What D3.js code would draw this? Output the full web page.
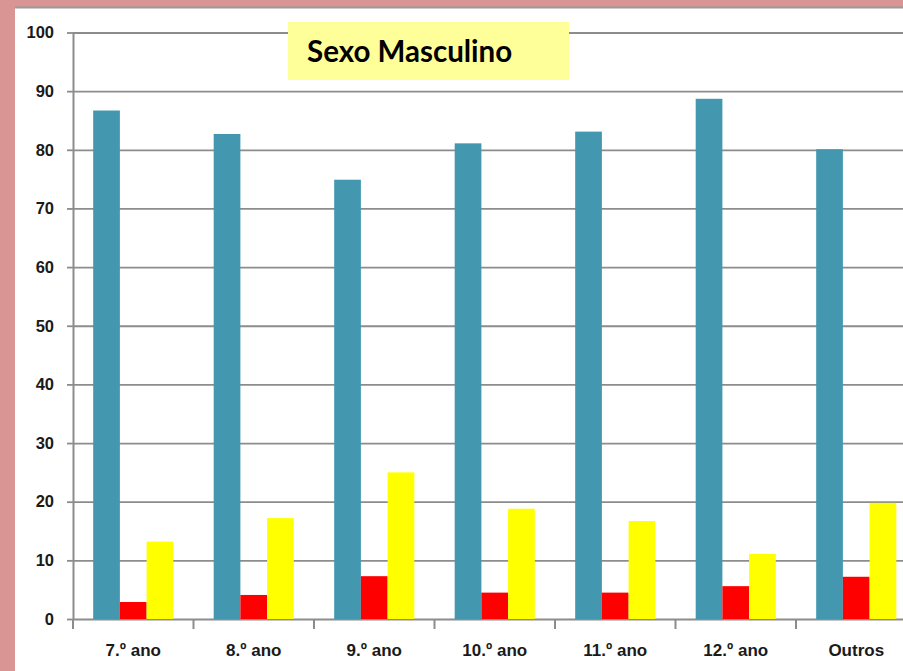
<!DOCTYPE html>
<html>
<head>
<meta charset="utf-8">
<script src="https://cdn.jsdelivr.net/npm/d3@7"></script>
<style>
  html, body { margin: 0; padding: 0; background: #fff; }
  svg { display: block; }
</style>
</head>
<body>
<svg width="903" height="671"></svg>
<script>
  // Data
  const categories = ["7.º ano", "8.º ano", "9.º ano", "10.º ano", "11.º ano", "12.º ano", "Outros"];
  const seriesNames = ["azul", "vermelho", "amarelo"];
  const azul = [86.7, 82.7, 74.9, 81.1, 83.1, 88.7, 80.1];
  const vermelho = [2.9, 4.1, 7.3, 4.5, 4.5, 5.6, 7.2];
  const amarelo = [13.2, 17.2, 25.0, 18.8, 16.7, 11.1, 19.8];
  const yTicks = [0, 10, 20, 30, 40, 50, 60, 70, 80, 90, 100];
  const title = "Sexo Masculino";

  const colors = { azul: "#4398b0", vermelho: "#ff0000", amarelo: "#ffff00" };
  const values = { azul, vermelho, amarelo };

  const W = 903, H = 671;
  const svg = d3.select("svg");

  // page frame: pink border on left/top
  svg.append("rect").attr("width", W).attr("height", H).attr("fill", "#d99594");
  svg.append("rect").attr("x", 15).attr("y", 7).attr("width", W - 15).attr("height", H - 7).attr("fill", "#fff");
  svg.append("line").attr("x1", 15).attr("x2", W).attr("y1", 7.5).attr("y2", 7.5)
    .attr("stroke", "#9a9a9a").attr("stroke-width", 2);

  // scales
  const step = 120.5;
  const x0 = 73;
  const x = d3.scaleBand()
    .domain(categories)
    .range([x0, x0 + step * categories.length])
    .paddingInner(0.335)
    .paddingOuter(0.1675);
  const xs = d3.scaleBand().domain(seriesNames).range([0, x.bandwidth()]);
  const y = d3.scaleLinear().domain([0, 100]).range([619, 32.5]);

  const font = "'Liberation Sans', Arial, sans-serif";

  // gridlines
  svg.append("g")
    .attr("transform", `translate(${x0},0)`)
    .call(d3.axisLeft(y).tickValues(yTicks).tickSize(-(W - x0)).tickFormat(""))
    .call(g => g.select(".domain").remove())
    .call(g => g.selectAll("line").attr("stroke", "#8c8c8c").attr("stroke-width", 1.8));

  // title box
  svg.append("rect").attr("x", 288).attr("y", 22).attr("width", 281).attr("height", 58).attr("fill", "#ffff99");
  svg.append("text").attr("x", 307).attr("y", 62)
    .attr("font-family", "Lato, 'Open Sans', sans-serif").attr("font-weight", "bold")
    .attr("font-size", 29.5).attr("fill", "#000").text(title);

  // bars
  const groups = svg.append("g").selectAll("g")
    .data(categories)
    .join("g")
    .attr("transform", d => `translate(${x(d)},0)`);

  groups.selectAll("rect")
    .data((d, i) => seriesNames.map(s => ({ s, v: values[s][i] })))
    .join("rect")
    .attr("x", d => xs(d.s))
    .attr("width", xs.bandwidth())
    .attr("y", d => y(d.v))
    .attr("height", d => y(0) - y(d.v))
    .attr("fill", d => colors[d.s]);

  // y axis
  svg.append("g")
    .attr("transform", `translate(${x0},0)`)
    .call(d3.axisLeft(y).tickValues(yTicks).tickSize(6).tickPadding(13).tickSizeOuter(0))
    .call(g => g.select(".domain").attr("stroke", "#8c8c8c").attr("stroke-width", 2))
    .call(g => g.selectAll("line").attr("stroke", "#8c8c8c").attr("stroke-width", 1.8))
    .call(g => g.selectAll("text")
      .attr("font-family", font).attr("font-weight", "bold")
      .attr("font-size", 16.5).attr("fill", "#1a1a1a"));

  // y axis line down through the x tick area
  svg.append("line").attr("x1", x0).attr("x2", x0).attr("y1", y(0)).attr("y2", y(0) + 10)
    .attr("stroke", "#8c8c8c").attr("stroke-width", 2);

  // x axis
  svg.append("g")
    .attr("transform", `translate(0,${y(0)})`)
    .call(d3.axisBottom(x).tickSize(0).tickPadding(25))
    .call(g => g.select(".domain").remove())
    .call(g => g.selectAll("text")
      .attr("font-family", font).attr("font-weight", "bold")
      .attr("font-size", 17).attr("fill", "#1a1a1a"));

  // category boundary ticks
  const bounds = d3.range(categories.length + 1).map(i => x0 + i * x.step());
  svg.append("g").selectAll("line")
    .data(bounds)
    .join("line")
    .attr("x1", d => d).attr("x2", d => d)
    .attr("y1", y(0)).attr("y2", y(0) + 10)
    .attr("stroke", "#8c8c8c").attr("stroke-width", 2);
</script>
</body>
</html>
